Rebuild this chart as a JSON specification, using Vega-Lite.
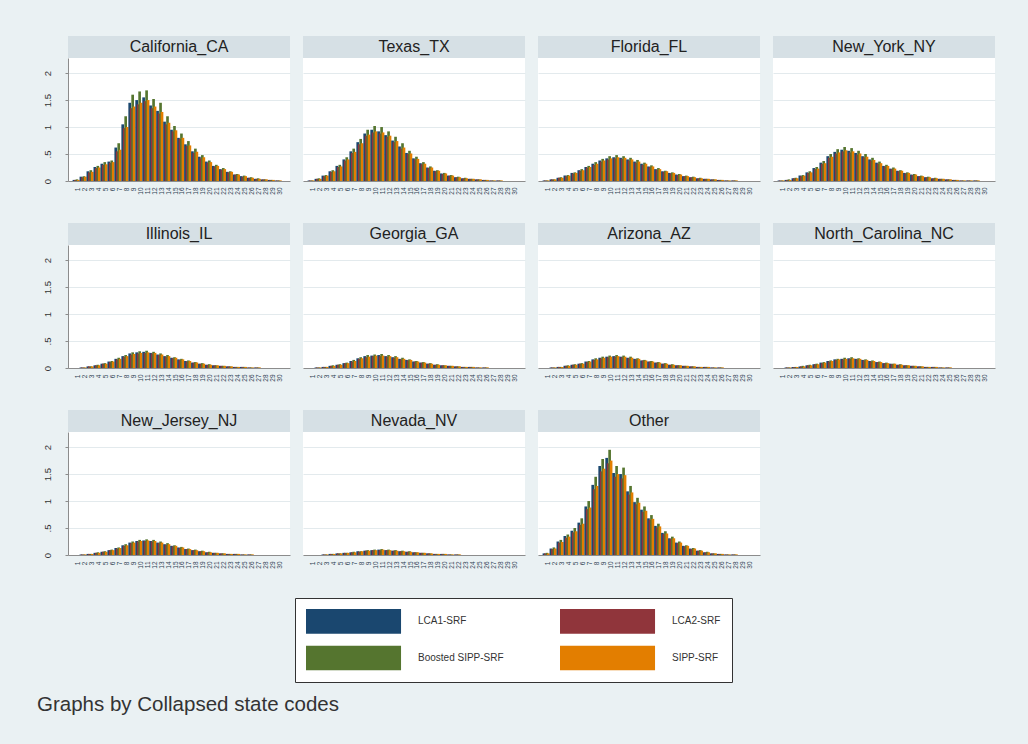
{
"$schema":"https://vega.github.io/schema/vega-lite/v6.json",
"background":"#EAF1F3",
"padding":{"left":37,"top":36,"right":33,"bottom":30},
"title":{"text":"Graphs by Collapsed state codes","orient":"bottom","anchor":"start","fontSize":20.5,"fontWeight":"normal","font":"Liberation Sans","color":"#333333","offset":12,"dx":-5},
"datasets":{"d":[
{"s":"CA","c":1,"a":0.02,"b":0.02,"g":0.03,"o":0.02},{"s":"CA","c":2,"a":0.08,"b":0.07,"g":0.09,"o":0.08},{"s":"CA","c":3,"a":0.18,"b":0.16,"g":0.2,"o":0.17},{"s":"CA","c":4,"a":0.26,"b":0.24,"g":0.28,"o":0.25},{"s":"CA","c":5,"a":0.32,"b":0.3,"g":0.35,"o":0.31},{"s":"CA","c":6,"a":0.36,"b":0.34,"g":0.38,"o":0.35},{"s":"CA","c":7,"a":0.62,"b":0.55,"g":0.7,"o":0.58},{"s":"CA","c":8,"a":1.05,"b":0.98,"g":1.2,"o":1.0},{"s":"CA","c":9,"a":1.45,"b":1.35,"g":1.6,"o":1.38},{"s":"CA","c":10,"a":1.5,"b":1.42,"g":1.66,"o":1.45},{"s":"CA","c":11,"a":1.55,"b":1.48,"g":1.68,"o":1.5},{"s":"CA","c":12,"a":1.4,"b":1.35,"g":1.52,"o":1.38},{"s":"CA","c":13,"a":1.3,"b":1.25,"g":1.45,"o":1.28},{"s":"CA","c":14,"a":1.1,"b":1.05,"g":1.2,"o":1.08},{"s":"CA","c":15,"a":0.95,"b":0.92,"g":1.02,"o":0.94},{"s":"CA","c":16,"a":0.8,"b":0.78,"g":0.88,"o":0.8},{"s":"CA","c":17,"a":0.68,"b":0.65,"g":0.74,"o":0.66},{"s":"CA","c":18,"a":0.55,"b":0.52,"g":0.6,"o":0.54},{"s":"CA","c":19,"a":0.45,"b":0.42,"g":0.48,"o":0.44},{"s":"CA","c":20,"a":0.36,"b":0.34,"g":0.38,"o":0.35},{"s":"CA","c":21,"a":0.28,"b":0.27,"g":0.3,"o":0.28},{"s":"CA","c":22,"a":0.22,"b":0.21,"g":0.24,"o":0.22},{"s":"CA","c":23,"a":0.17,"b":0.16,"g":0.18,"o":0.17},{"s":"CA","c":24,"a":0.12,"b":0.12,"g":0.13,"o":0.12},{"s":"CA","c":25,"a":0.09,"b":0.08,"g":0.1,"o":0.09},{"s":"CA","c":26,"a":0.06,"b":0.06,"g":0.07,"o":0.06},{"s":"CA","c":27,"a":0.04,"b":0.04,"g":0.05,"o":0.04},{"s":"CA","c":28,"a":0.03,"b":0.03,"g":0.03,"o":0.03},{"s":"CA","c":29,"a":0.02,"b":0.02,"g":0.02,"o":0.02},{"s":"CA","c":30,"a":0.01,"b":0.01,"g":0.01,"o":0.01},
{"s":"TX","c":1,"a":0.01,"b":0.01,"g":0.01,"o":0.01},{"s":"TX","c":2,"a":0.04,"b":0.04,"g":0.05,"o":0.04},{"s":"TX","c":3,"a":0.1,"b":0.09,"g":0.11,"o":0.1},{"s":"TX","c":4,"a":0.18,"b":0.17,"g":0.2,"o":0.18},{"s":"TX","c":5,"a":0.28,"b":0.26,"g":0.3,"o":0.27},{"s":"TX","c":6,"a":0.4,"b":0.38,"g":0.44,"o":0.4},{"s":"TX","c":7,"a":0.55,"b":0.52,"g":0.6,"o":0.54},{"s":"TX","c":8,"a":0.72,"b":0.68,"g":0.78,"o":0.7},{"s":"TX","c":9,"a":0.88,"b":0.84,"g":0.95,"o":0.86},{"s":"TX","c":10,"a":0.95,"b":0.9,"g":1.02,"o":0.92},{"s":"TX","c":11,"a":0.92,"b":0.88,"g":1.0,"o":0.9},{"s":"TX","c":12,"a":0.85,"b":0.82,"g":0.92,"o":0.84},{"s":"TX","c":13,"a":0.75,"b":0.72,"g":0.82,"o":0.74},{"s":"TX","c":14,"a":0.64,"b":0.6,"g":0.7,"o":0.62},{"s":"TX","c":15,"a":0.52,"b":0.5,"g":0.56,"o":0.51},{"s":"TX","c":16,"a":0.42,"b":0.4,"g":0.45,"o":0.41},{"s":"TX","c":17,"a":0.33,"b":0.31,"g":0.35,"o":0.32},{"s":"TX","c":18,"a":0.25,"b":0.24,"g":0.27,"o":0.25},{"s":"TX","c":19,"a":0.19,"b":0.18,"g":0.2,"o":0.19},{"s":"TX","c":20,"a":0.14,"b":0.13,"g":0.15,"o":0.14},{"s":"TX","c":21,"a":0.1,"b":0.1,"g":0.11,"o":0.1},{"s":"TX","c":22,"a":0.07,"b":0.07,"g":0.08,"o":0.07},{"s":"TX","c":23,"a":0.05,"b":0.05,"g":0.06,"o":0.05},{"s":"TX","c":24,"a":0.04,"b":0.04,"g":0.04,"o":0.04},{"s":"TX","c":25,"a":0.03,"b":0.03,"g":0.03,"o":0.03},{"s":"TX","c":26,"a":0.02,"b":0.02,"g":0.02,"o":0.02},{"s":"TX","c":27,"a":0.01,"b":0.01,"g":0.01,"o":0.01},{"s":"TX","c":28,"a":0.01,"b":0.01,"g":0.01,"o":0.01},
{"s":"FL","c":1,"a":0.01,"b":0.01,"g":0.01,"o":0.01},{"s":"FL","c":2,"a":0.03,"b":0.03,"g":0.03,"o":0.03},{"s":"FL","c":3,"a":0.06,"b":0.06,"g":0.07,"o":0.06},{"s":"FL","c":4,"a":0.1,"b":0.09,"g":0.11,"o":0.1},{"s":"FL","c":5,"a":0.15,"b":0.14,"g":0.16,"o":0.15},{"s":"FL","c":6,"a":0.2,"b":0.19,"g":0.22,"o":0.2},{"s":"FL","c":7,"a":0.26,"b":0.25,"g":0.28,"o":0.26},{"s":"FL","c":8,"a":0.32,"b":0.3,"g":0.35,"o":0.32},{"s":"FL","c":9,"a":0.38,"b":0.36,"g":0.41,"o":0.38},{"s":"FL","c":10,"a":0.42,"b":0.4,"g":0.46,"o":0.42},{"s":"FL","c":11,"a":0.44,"b":0.42,"g":0.48,"o":0.44},{"s":"FL","c":12,"a":0.43,"b":0.41,"g":0.46,"o":0.43},{"s":"FL","c":13,"a":0.4,"b":0.38,"g":0.43,"o":0.4},{"s":"FL","c":14,"a":0.36,"b":0.34,"g":0.39,"o":0.36},{"s":"FL","c":15,"a":0.32,"b":0.3,"g":0.34,"o":0.32},{"s":"FL","c":16,"a":0.27,"b":0.26,"g":0.29,"o":0.27},{"s":"FL","c":17,"a":0.22,"b":0.21,"g":0.24,"o":0.22},{"s":"FL","c":18,"a":0.18,"b":0.17,"g":0.19,"o":0.18},{"s":"FL","c":19,"a":0.15,"b":0.14,"g":0.16,"o":0.15},{"s":"FL","c":20,"a":0.12,"b":0.11,"g":0.13,"o":0.12},{"s":"FL","c":21,"a":0.09,"b":0.09,"g":0.1,"o":0.09},{"s":"FL","c":22,"a":0.07,"b":0.07,"g":0.08,"o":0.07},{"s":"FL","c":23,"a":0.05,"b":0.05,"g":0.06,"o":0.05},{"s":"FL","c":24,"a":0.04,"b":0.04,"g":0.04,"o":0.04},{"s":"FL","c":25,"a":0.03,"b":0.03,"g":0.03,"o":0.03},{"s":"FL","c":26,"a":0.02,"b":0.02,"g":0.02,"o":0.02},{"s":"FL","c":27,"a":0.01,"b":0.01,"g":0.01,"o":0.01},{"s":"FL","c":28,"a":0.01,"b":0.01,"g":0.01,"o":0.01},
{"s":"NY","c":1,"a":0.01,"b":0.01,"g":0.01,"o":0.01},{"s":"NY","c":2,"a":0.02,"b":0.02,"g":0.03,"o":0.02},{"s":"NY","c":3,"a":0.05,"b":0.05,"g":0.06,"o":0.05},{"s":"NY","c":4,"a":0.1,"b":0.09,"g":0.11,"o":0.1},{"s":"NY","c":5,"a":0.16,"b":0.15,"g":0.18,"o":0.16},{"s":"NY","c":6,"a":0.24,"b":0.22,"g":0.26,"o":0.23},{"s":"NY","c":7,"a":0.34,"b":0.32,"g":0.37,"o":0.33},{"s":"NY","c":8,"a":0.46,"b":0.43,"g":0.5,"o":0.45},{"s":"NY","c":9,"a":0.54,"b":0.51,"g":0.59,"o":0.53},{"s":"NY","c":10,"a":0.58,"b":0.55,"g":0.63,"o":0.57},{"s":"NY","c":11,"a":0.56,"b":0.53,"g":0.61,"o":0.55},{"s":"NY","c":12,"a":0.52,"b":0.49,"g":0.56,"o":0.51},{"s":"NY","c":13,"a":0.46,"b":0.44,"g":0.5,"o":0.45},{"s":"NY","c":14,"a":0.4,"b":0.38,"g":0.43,"o":0.39},{"s":"NY","c":15,"a":0.34,"b":0.32,"g":0.36,"o":0.33},{"s":"NY","c":16,"a":0.28,"b":0.27,"g":0.3,"o":0.28},{"s":"NY","c":17,"a":0.23,"b":0.22,"g":0.25,"o":0.23},{"s":"NY","c":18,"a":0.19,"b":0.18,"g":0.2,"o":0.19},{"s":"NY","c":19,"a":0.15,"b":0.14,"g":0.16,"o":0.15},{"s":"NY","c":20,"a":0.12,"b":0.11,"g":0.13,"o":0.12},{"s":"NY","c":21,"a":0.09,"b":0.09,"g":0.1,"o":0.09},{"s":"NY","c":22,"a":0.07,"b":0.07,"g":0.08,"o":0.07},{"s":"NY","c":23,"a":0.05,"b":0.05,"g":0.06,"o":0.05},{"s":"NY","c":24,"a":0.04,"b":0.04,"g":0.04,"o":0.04},{"s":"NY","c":25,"a":0.03,"b":0.03,"g":0.03,"o":0.03},{"s":"NY","c":26,"a":0.02,"b":0.02,"g":0.02,"o":0.02},{"s":"NY","c":27,"a":0.01,"b":0.01,"g":0.01,"o":0.01},{"s":"NY","c":28,"a":0.01,"b":0.01,"g":0.01,"o":0.01},{"s":"NY","c":29,"a":0.01,"b":0.01,"g":0.01,"o":0.01},
{"s":"IL","c":2,"a":0.01,"b":0.01,"g":0.01,"o":0.01},{"s":"IL","c":3,"a":0.03,"b":0.03,"g":0.03,"o":0.03},{"s":"IL","c":4,"a":0.05,"b":0.05,"g":0.06,"o":0.05},{"s":"IL","c":5,"a":0.08,"b":0.08,"g":0.09,"o":0.08},{"s":"IL","c":6,"a":0.12,"b":0.11,"g":0.13,"o":0.12},{"s":"IL","c":7,"a":0.17,"b":0.16,"g":0.19,"o":0.17},{"s":"IL","c":8,"a":0.22,"b":0.21,"g":0.24,"o":0.22},{"s":"IL","c":9,"a":0.27,"b":0.25,"g":0.29,"o":0.26},{"s":"IL","c":10,"a":0.29,"b":0.27,"g":0.31,"o":0.28},{"s":"IL","c":11,"a":0.3,"b":0.28,"g":0.32,"o":0.29},{"s":"IL","c":12,"a":0.28,"b":0.27,"g":0.3,"o":0.28},{"s":"IL","c":13,"a":0.25,"b":0.24,"g":0.27,"o":0.25},{"s":"IL","c":14,"a":0.22,"b":0.21,"g":0.24,"o":0.22},{"s":"IL","c":15,"a":0.19,"b":0.18,"g":0.2,"o":0.19},{"s":"IL","c":16,"a":0.16,"b":0.15,"g":0.17,"o":0.16},{"s":"IL","c":17,"a":0.13,"b":0.12,"g":0.14,"o":0.13},{"s":"IL","c":18,"a":0.1,"b":0.1,"g":0.11,"o":0.1},{"s":"IL","c":19,"a":0.08,"b":0.08,"g":0.09,"o":0.08},{"s":"IL","c":20,"a":0.06,"b":0.06,"g":0.07,"o":0.06},{"s":"IL","c":21,"a":0.05,"b":0.05,"g":0.05,"o":0.05},{"s":"IL","c":22,"a":0.04,"b":0.04,"g":0.04,"o":0.04},{"s":"IL","c":23,"a":0.03,"b":0.03,"g":0.03,"o":0.03},{"s":"IL","c":24,"a":0.02,"b":0.02,"g":0.02,"o":0.02},{"s":"IL","c":25,"a":0.02,"b":0.02,"g":0.02,"o":0.02},{"s":"IL","c":26,"a":0.01,"b":0.01,"g":0.01,"o":0.01},{"s":"IL","c":27,"a":0.01,"b":0.01,"g":0.01,"o":0.01},
{"s":"GA","c":2,"a":0.01,"b":0.01,"g":0.01,"o":0.01},{"s":"GA","c":3,"a":0.02,"b":0.02,"g":0.02,"o":0.02},{"s":"GA","c":4,"a":0.04,"b":0.04,"g":0.05,"o":0.04},{"s":"GA","c":5,"a":0.06,"b":0.06,"g":0.07,"o":0.06},{"s":"GA","c":6,"a":0.09,"b":0.09,"g":0.1,"o":0.09},{"s":"GA","c":7,"a":0.13,"b":0.12,"g":0.15,"o":0.13},{"s":"GA","c":8,"a":0.18,"b":0.17,"g":0.2,"o":0.18},{"s":"GA","c":9,"a":0.22,"b":0.2,"g":0.24,"o":0.21},{"s":"GA","c":10,"a":0.23,"b":0.22,"g":0.25,"o":0.23},{"s":"GA","c":11,"a":0.24,"b":0.22,"g":0.26,"o":0.23},{"s":"GA","c":12,"a":0.22,"b":0.21,"g":0.24,"o":0.22},{"s":"GA","c":13,"a":0.2,"b":0.19,"g":0.22,"o":0.2},{"s":"GA","c":14,"a":0.17,"b":0.16,"g":0.19,"o":0.17},{"s":"GA","c":15,"a":0.15,"b":0.14,"g":0.16,"o":0.15},{"s":"GA","c":16,"a":0.12,"b":0.12,"g":0.13,"o":0.12},{"s":"GA","c":17,"a":0.1,"b":0.1,"g":0.11,"o":0.1},{"s":"GA","c":18,"a":0.08,"b":0.08,"g":0.09,"o":0.08},{"s":"GA","c":19,"a":0.06,"b":0.06,"g":0.07,"o":0.06},{"s":"GA","c":20,"a":0.05,"b":0.05,"g":0.05,"o":0.05},{"s":"GA","c":21,"a":0.04,"b":0.04,"g":0.04,"o":0.04},{"s":"GA","c":22,"a":0.03,"b":0.03,"g":0.03,"o":0.03},{"s":"GA","c":23,"a":0.02,"b":0.02,"g":0.02,"o":0.02},{"s":"GA","c":24,"a":0.02,"b":0.02,"g":0.02,"o":0.02},{"s":"GA","c":25,"a":0.01,"b":0.01,"g":0.01,"o":0.01},{"s":"GA","c":26,"a":0.01,"b":0.01,"g":0.01,"o":0.01},
{"s":"AZ","c":2,"a":0.01,"b":0.01,"g":0.01,"o":0.01},{"s":"AZ","c":3,"a":0.02,"b":0.02,"g":0.02,"o":0.02},{"s":"AZ","c":4,"a":0.04,"b":0.04,"g":0.05,"o":0.04},{"s":"AZ","c":5,"a":0.06,"b":0.06,"g":0.07,"o":0.06},{"s":"AZ","c":6,"a":0.08,"b":0.08,"g":0.09,"o":0.08},{"s":"AZ","c":7,"a":0.12,"b":0.11,"g":0.13,"o":0.12},{"s":"AZ","c":8,"a":0.16,"b":0.15,"g":0.18,"o":0.16},{"s":"AZ","c":9,"a":0.19,"b":0.18,"g":0.21,"o":0.19},{"s":"AZ","c":10,"a":0.21,"b":0.2,"g":0.23,"o":0.21},{"s":"AZ","c":11,"a":0.22,"b":0.21,"g":0.24,"o":0.22},{"s":"AZ","c":12,"a":0.21,"b":0.2,"g":0.23,"o":0.21},{"s":"AZ","c":13,"a":0.19,"b":0.18,"g":0.21,"o":0.19},{"s":"AZ","c":14,"a":0.17,"b":0.16,"g":0.18,"o":0.17},{"s":"AZ","c":15,"a":0.14,"b":0.14,"g":0.15,"o":0.14},{"s":"AZ","c":16,"a":0.12,"b":0.12,"g":0.13,"o":0.12},{"s":"AZ","c":17,"a":0.1,"b":0.1,"g":0.11,"o":0.1},{"s":"AZ","c":18,"a":0.08,"b":0.08,"g":0.09,"o":0.08},{"s":"AZ","c":19,"a":0.06,"b":0.06,"g":0.07,"o":0.06},{"s":"AZ","c":20,"a":0.05,"b":0.05,"g":0.05,"o":0.05},{"s":"AZ","c":21,"a":0.04,"b":0.04,"g":0.04,"o":0.04},{"s":"AZ","c":22,"a":0.03,"b":0.03,"g":0.03,"o":0.03},{"s":"AZ","c":23,"a":0.02,"b":0.02,"g":0.02,"o":0.02},{"s":"AZ","c":24,"a":0.02,"b":0.02,"g":0.02,"o":0.02},{"s":"AZ","c":25,"a":0.01,"b":0.01,"g":0.01,"o":0.01},{"s":"AZ","c":26,"a":0.01,"b":0.01,"g":0.01,"o":0.01},
{"s":"NC","c":2,"a":0.01,"b":0.01,"g":0.01,"o":0.01},{"s":"NC","c":3,"a":0.02,"b":0.02,"g":0.02,"o":0.02},{"s":"NC","c":4,"a":0.03,"b":0.03,"g":0.04,"o":0.03},{"s":"NC","c":5,"a":0.05,"b":0.05,"g":0.06,"o":0.05},{"s":"NC","c":6,"a":0.07,"b":0.07,"g":0.08,"o":0.07},{"s":"NC","c":7,"a":0.1,"b":0.09,"g":0.11,"o":0.1},{"s":"NC","c":8,"a":0.13,"b":0.12,"g":0.14,"o":0.13},{"s":"NC","c":9,"a":0.16,"b":0.15,"g":0.17,"o":0.16},{"s":"NC","c":10,"a":0.17,"b":0.16,"g":0.19,"o":0.17},{"s":"NC","c":11,"a":0.18,"b":0.17,"g":0.2,"o":0.18},{"s":"NC","c":12,"a":0.17,"b":0.16,"g":0.18,"o":0.17},{"s":"NC","c":13,"a":0.15,"b":0.14,"g":0.16,"o":0.15},{"s":"NC","c":14,"a":0.13,"b":0.12,"g":0.14,"o":0.13},{"s":"NC","c":15,"a":0.11,"b":0.11,"g":0.12,"o":0.11},{"s":"NC","c":16,"a":0.09,"b":0.09,"g":0.1,"o":0.09},{"s":"NC","c":17,"a":0.08,"b":0.07,"g":0.08,"o":0.08},{"s":"NC","c":18,"a":0.06,"b":0.06,"g":0.07,"o":0.06},{"s":"NC","c":19,"a":0.05,"b":0.05,"g":0.05,"o":0.05},{"s":"NC","c":20,"a":0.04,"b":0.04,"g":0.04,"o":0.04},{"s":"NC","c":21,"a":0.03,"b":0.03,"g":0.03,"o":0.03},{"s":"NC","c":22,"a":0.02,"b":0.02,"g":0.02,"o":0.02},{"s":"NC","c":23,"a":0.02,"b":0.02,"g":0.02,"o":0.02},{"s":"NC","c":24,"a":0.01,"b":0.01,"g":0.01,"o":0.01},{"s":"NC","c":25,"a":0.01,"b":0.01,"g":0.01,"o":0.01},
{"s":"NJ","c":2,"a":0.01,"b":0.01,"g":0.01,"o":0.01},{"s":"NJ","c":3,"a":0.02,"b":0.02,"g":0.02,"o":0.02},{"s":"NJ","c":4,"a":0.04,"b":0.04,"g":0.05,"o":0.04},{"s":"NJ","c":5,"a":0.06,"b":0.06,"g":0.07,"o":0.06},{"s":"NJ","c":6,"a":0.09,"b":0.09,"g":0.1,"o":0.09},{"s":"NJ","c":7,"a":0.13,"b":0.12,"g":0.14,"o":0.13},{"s":"NJ","c":8,"a":0.18,"b":0.17,"g":0.2,"o":0.18},{"s":"NJ","c":9,"a":0.23,"b":0.22,"g":0.25,"o":0.23},{"s":"NJ","c":10,"a":0.26,"b":0.25,"g":0.28,"o":0.26},{"s":"NJ","c":11,"a":0.27,"b":0.26,"g":0.29,"o":0.27},{"s":"NJ","c":12,"a":0.26,"b":0.25,"g":0.28,"o":0.26},{"s":"NJ","c":13,"a":0.23,"b":0.22,"g":0.25,"o":0.23},{"s":"NJ","c":14,"a":0.2,"b":0.19,"g":0.22,"o":0.2},{"s":"NJ","c":15,"a":0.17,"b":0.16,"g":0.18,"o":0.17},{"s":"NJ","c":16,"a":0.14,"b":0.13,"g":0.15,"o":0.14},{"s":"NJ","c":17,"a":0.11,"b":0.11,"g":0.12,"o":0.11},{"s":"NJ","c":18,"a":0.09,"b":0.09,"g":0.1,"o":0.09},{"s":"NJ","c":19,"a":0.07,"b":0.07,"g":0.08,"o":0.07},{"s":"NJ","c":20,"a":0.05,"b":0.05,"g":0.06,"o":0.05},{"s":"NJ","c":21,"a":0.04,"b":0.04,"g":0.04,"o":0.04},{"s":"NJ","c":22,"a":0.03,"b":0.03,"g":0.03,"o":0.03},{"s":"NJ","c":23,"a":0.02,"b":0.02,"g":0.02,"o":0.02},{"s":"NJ","c":24,"a":0.02,"b":0.02,"g":0.02,"o":0.02},{"s":"NJ","c":25,"a":0.01,"b":0.01,"g":0.01,"o":0.01},{"s":"NJ","c":26,"a":0.01,"b":0.01,"g":0.01,"o":0.01},
{"s":"NV","c":3,"a":0.01,"b":0.01,"g":0.01,"o":0.01},{"s":"NV","c":4,"a":0.02,"b":0.02,"g":0.02,"o":0.02},{"s":"NV","c":5,"a":0.03,"b":0.03,"g":0.03,"o":0.03},{"s":"NV","c":6,"a":0.04,"b":0.04,"g":0.04,"o":0.04},{"s":"NV","c":7,"a":0.05,"b":0.05,"g":0.06,"o":0.05},{"s":"NV","c":8,"a":0.07,"b":0.06,"g":0.07,"o":0.07},{"s":"NV","c":9,"a":0.08,"b":0.08,"g":0.09,"o":0.08},{"s":"NV","c":10,"a":0.09,"b":0.09,"g":0.1,"o":0.09},{"s":"NV","c":11,"a":0.1,"b":0.09,"g":0.11,"o":0.1},{"s":"NV","c":12,"a":0.09,"b":0.09,"g":0.1,"o":0.09},{"s":"NV","c":13,"a":0.08,"b":0.08,"g":0.09,"o":0.08},{"s":"NV","c":14,"a":0.07,"b":0.07,"g":0.08,"o":0.07},{"s":"NV","c":15,"a":0.06,"b":0.06,"g":0.07,"o":0.06},{"s":"NV","c":16,"a":0.05,"b":0.05,"g":0.05,"o":0.05},{"s":"NV","c":17,"a":0.04,"b":0.04,"g":0.04,"o":0.04},{"s":"NV","c":18,"a":0.03,"b":0.03,"g":0.03,"o":0.03},{"s":"NV","c":19,"a":0.02,"b":0.02,"g":0.02,"o":0.02},{"s":"NV","c":20,"a":0.02,"b":0.02,"g":0.02,"o":0.02},{"s":"NV","c":21,"a":0.01,"b":0.01,"g":0.01,"o":0.01},{"s":"NV","c":22,"a":0.01,"b":0.01,"g":0.01,"o":0.01},
{"s":"OT","c":1,"a":0.03,"b":0.03,"g":0.04,"o":0.03},{"s":"OT","c":2,"a":0.12,"b":0.11,"g":0.14,"o":0.12},{"s":"OT","c":3,"a":0.25,"b":0.23,"g":0.28,"o":0.24},{"s":"OT","c":4,"a":0.35,"b":0.32,"g":0.38,"o":0.34},{"s":"OT","c":5,"a":0.45,"b":0.42,"g":0.5,"o":0.44},{"s":"OT","c":6,"a":0.6,"b":0.56,"g":0.68,"o":0.58},{"s":"OT","c":7,"a":0.9,"b":0.85,"g":1.0,"o":0.88},{"s":"OT","c":8,"a":1.3,"b":1.22,"g":1.45,"o":1.28},{"s":"OT","c":9,"a":1.65,"b":1.55,"g":1.78,"o":1.6},{"s":"OT","c":10,"a":1.8,"b":1.7,"g":1.95,"o":1.75},{"s":"OT","c":11,"a":1.52,"b":1.45,"g":1.65,"o":1.5},{"s":"OT","c":12,"a":1.5,"b":1.42,"g":1.62,"o":1.48},{"s":"OT","c":13,"a":1.18,"b":1.12,"g":1.28,"o":1.16},{"s":"OT","c":14,"a":0.98,"b":0.94,"g":1.06,"o":0.97},{"s":"OT","c":15,"a":0.84,"b":0.8,"g":0.9,"o":0.82},{"s":"OT","c":16,"a":0.68,"b":0.65,"g":0.74,"o":0.67},{"s":"OT","c":17,"a":0.54,"b":0.51,"g":0.58,"o":0.53},{"s":"OT","c":18,"a":0.41,"b":0.39,"g":0.44,"o":0.4},{"s":"OT","c":19,"a":0.31,"b":0.3,"g":0.34,"o":0.31},{"s":"OT","c":20,"a":0.23,"b":0.22,"g":0.25,"o":0.23},{"s":"OT","c":21,"a":0.17,"b":0.16,"g":0.18,"o":0.17},{"s":"OT","c":22,"a":0.12,"b":0.11,"g":0.13,"o":0.12},{"s":"OT","c":23,"a":0.08,"b":0.08,"g":0.09,"o":0.08},{"s":"OT","c":24,"a":0.05,"b":0.05,"g":0.06,"o":0.05},{"s":"OT","c":25,"a":0.03,"b":0.03,"g":0.03,"o":0.03},{"s":"OT","c":26,"a":0.02,"b":0.02,"g":0.02,"o":0.02},{"s":"OT","c":27,"a":0.01,"b":0.01,"g":0.01,"o":0.01},{"s":"OT","c":28,"a":0.01,"b":0.01,"g":0.01,"o":0.01}
]},
"spacing":28,
"vconcat":[
{"spacing":13,"hconcat":[
 {"bounds":"flush","spacing":0,"vconcat":[
  {"width":222,"height":22,"view":{"fill":"#D6E0E5"},"data":{"values":[{"t":"California_CA"}]},"mark":{"type":"text","fontSize":16,"font":"Liberation Sans","color":"#222222"},"encoding":{"text":{"field":"t"}}},
  {"width":222,"height":123,"data":{"name":"d"},"transform":[{"filter":"datum.s=='CA'"},{"fold":["a","b","g","o"],"as":["k","v"]}],"mark":{"type":"bar","width":{"band":1.8}},
   "encoding":{"x":{"field":"c","type":"ordinal","scale":{"domain":[1,2,3,4,5,6,7,8,9,10,11,12,13,14,15,16,17,18,19,20,21,22,23,24,25,26,27,28,29,30],"paddingInner":0.15,"paddingOuter":2}},
   "xOffset":{"field":"k","scale":{"domain":["a","b","g","o"]}},
   "y":{"field":"v","type":"quantitative","scale":{"domain":[0,2.28],"nice":false,"zero":true}},
   "color":{"field":"k","scale":{"domain":["a","b","g","o"],"range":["#1a476f","#90353b","#55752f","#e37e00"]},"legend":{"orient":"none","legendX":227,"legendY":562,"columns":2,"direction":"horizontal","title":null,"labelExpr":"datum.label=='a'?'LCA1-SRF':datum.label=='b'?'LCA2-SRF':datum.label=='g'?'Boosted SIPP-SRF':'SIPP-SRF'"}}}}
 ]},
 {"bounds":"flush","spacing":0,"vconcat":[
  {"width":222,"height":22,"view":{"fill":"#D6E0E5"},"data":{"values":[{"t":"Texas_TX"}]},"mark":{"type":"text","fontSize":16,"font":"Liberation Sans","color":"#222222"},"encoding":{"text":{"field":"t"}}},
  {"width":222,"height":123,"data":{"name":"d"},"transform":[{"filter":"datum.s=='TX'"},{"fold":["a","b","g","o"],"as":["k","v"]}],"mark":{"type":"bar","width":{"band":1.8}},
   "encoding":{"x":{"field":"c","type":"ordinal","scale":{"domain":[1,2,3,4,5,6,7,8,9,10,11,12,13,14,15,16,17,18,19,20,21,22,23,24,25,26,27,28,29,30],"paddingInner":0.15,"paddingOuter":2}},
   "xOffset":{"field":"k","scale":{"domain":["a","b","g","o"]}},
   "y":{"field":"v","type":"quantitative","scale":{"domain":[0,2.28],"nice":false,"zero":true},"axis":{"labels":false,"ticks":false,"domain":false}},
   "color":{"field":"k","scale":{"domain":["a","b","g","o"],"range":["#1a476f","#90353b","#55752f","#e37e00"]},"legend":{"orient":"none","legendX":227,"legendY":562,"columns":2,"direction":"horizontal","title":null,"labelExpr":"datum.label=='a'?'LCA1-SRF':datum.label=='b'?'LCA2-SRF':datum.label=='g'?'Boosted SIPP-SRF':'SIPP-SRF'"}}}}
 ]},
 {"bounds":"flush","spacing":0,"vconcat":[
  {"width":222,"height":22,"view":{"fill":"#D6E0E5"},"data":{"values":[{"t":"Florida_FL"}]},"mark":{"type":"text","fontSize":16,"font":"Liberation Sans","color":"#222222"},"encoding":{"text":{"field":"t"}}},
  {"width":222,"height":123,"data":{"name":"d"},"transform":[{"filter":"datum.s=='FL'"},{"fold":["a","b","g","o"],"as":["k","v"]}],"mark":{"type":"bar","width":{"band":1.8}},
   "encoding":{"x":{"field":"c","type":"ordinal","scale":{"domain":[1,2,3,4,5,6,7,8,9,10,11,12,13,14,15,16,17,18,19,20,21,22,23,24,25,26,27,28,29,30],"paddingInner":0.15,"paddingOuter":2}},
   "xOffset":{"field":"k","scale":{"domain":["a","b","g","o"]}},
   "y":{"field":"v","type":"quantitative","scale":{"domain":[0,2.28],"nice":false,"zero":true},"axis":{"labels":false,"ticks":false,"domain":false}},
   "color":{"field":"k","scale":{"domain":["a","b","g","o"],"range":["#1a476f","#90353b","#55752f","#e37e00"]},"legend":{"orient":"none","legendX":227,"legendY":562,"columns":2,"direction":"horizontal","title":null,"labelExpr":"datum.label=='a'?'LCA1-SRF':datum.label=='b'?'LCA2-SRF':datum.label=='g'?'Boosted SIPP-SRF':'SIPP-SRF'"}}}}
 ]},
 {"bounds":"flush","spacing":0,"vconcat":[
  {"width":222,"height":22,"view":{"fill":"#D6E0E5"},"data":{"values":[{"t":"New_York_NY"}]},"mark":{"type":"text","fontSize":16,"font":"Liberation Sans","color":"#222222"},"encoding":{"text":{"field":"t"}}},
  {"width":222,"height":123,"data":{"name":"d"},"transform":[{"filter":"datum.s=='NY'"},{"fold":["a","b","g","o"],"as":["k","v"]}],"mark":{"type":"bar","width":{"band":1.8}},
   "encoding":{"x":{"field":"c","type":"ordinal","scale":{"domain":[1,2,3,4,5,6,7,8,9,10,11,12,13,14,15,16,17,18,19,20,21,22,23,24,25,26,27,28,29,30],"paddingInner":0.15,"paddingOuter":2}},
   "xOffset":{"field":"k","scale":{"domain":["a","b","g","o"]}},
   "y":{"field":"v","type":"quantitative","scale":{"domain":[0,2.28],"nice":false,"zero":true},"axis":{"labels":false,"ticks":false,"domain":false}},
   "color":{"field":"k","scale":{"domain":["a","b","g","o"],"range":["#1a476f","#90353b","#55752f","#e37e00"]},"legend":{"orient":"none","legendX":227,"legendY":562,"columns":2,"direction":"horizontal","title":null,"labelExpr":"datum.label=='a'?'LCA1-SRF':datum.label=='b'?'LCA2-SRF':datum.label=='g'?'Boosted SIPP-SRF':'SIPP-SRF'"}}}}
 ]}
]},
{"spacing":13,"hconcat":[
 {"bounds":"flush","spacing":0,"vconcat":[
  {"width":222,"height":22,"view":{"fill":"#D6E0E5"},"data":{"values":[{"t":"Illinois_IL"}]},"mark":{"type":"text","fontSize":16,"font":"Liberation Sans","color":"#222222"},"encoding":{"text":{"field":"t"}}},
  {"width":222,"height":123,"data":{"name":"d"},"transform":[{"filter":"datum.s=='IL'"},{"fold":["a","b","g","o"],"as":["k","v"]}],"mark":{"type":"bar","width":{"band":1.8}},
   "encoding":{"x":{"field":"c","type":"ordinal","scale":{"domain":[1,2,3,4,5,6,7,8,9,10,11,12,13,14,15,16,17,18,19,20,21,22,23,24,25,26,27,28,29,30],"paddingInner":0.15,"paddingOuter":2}},
   "xOffset":{"field":"k","scale":{"domain":["a","b","g","o"]}},
   "y":{"field":"v","type":"quantitative","scale":{"domain":[0,2.28],"nice":false,"zero":true}},
   "color":{"field":"k","scale":{"domain":["a","b","g","o"],"range":["#1a476f","#90353b","#55752f","#e37e00"]},"legend":{"orient":"none","legendX":227,"legendY":562,"columns":2,"direction":"horizontal","title":null,"labelExpr":"datum.label=='a'?'LCA1-SRF':datum.label=='b'?'LCA2-SRF':datum.label=='g'?'Boosted SIPP-SRF':'SIPP-SRF'"}}}}
 ]},
 {"bounds":"flush","spacing":0,"vconcat":[
  {"width":222,"height":22,"view":{"fill":"#D6E0E5"},"data":{"values":[{"t":"Georgia_GA"}]},"mark":{"type":"text","fontSize":16,"font":"Liberation Sans","color":"#222222"},"encoding":{"text":{"field":"t"}}},
  {"width":222,"height":123,"data":{"name":"d"},"transform":[{"filter":"datum.s=='GA'"},{"fold":["a","b","g","o"],"as":["k","v"]}],"mark":{"type":"bar","width":{"band":1.8}},
   "encoding":{"x":{"field":"c","type":"ordinal","scale":{"domain":[1,2,3,4,5,6,7,8,9,10,11,12,13,14,15,16,17,18,19,20,21,22,23,24,25,26,27,28,29,30],"paddingInner":0.15,"paddingOuter":2}},
   "xOffset":{"field":"k","scale":{"domain":["a","b","g","o"]}},
   "y":{"field":"v","type":"quantitative","scale":{"domain":[0,2.28],"nice":false,"zero":true},"axis":{"labels":false,"ticks":false,"domain":false}},
   "color":{"field":"k","scale":{"domain":["a","b","g","o"],"range":["#1a476f","#90353b","#55752f","#e37e00"]},"legend":{"orient":"none","legendX":227,"legendY":562,"columns":2,"direction":"horizontal","title":null,"labelExpr":"datum.label=='a'?'LCA1-SRF':datum.label=='b'?'LCA2-SRF':datum.label=='g'?'Boosted SIPP-SRF':'SIPP-SRF'"}}}}
 ]},
 {"bounds":"flush","spacing":0,"vconcat":[
  {"width":222,"height":22,"view":{"fill":"#D6E0E5"},"data":{"values":[{"t":"Arizona_AZ"}]},"mark":{"type":"text","fontSize":16,"font":"Liberation Sans","color":"#222222"},"encoding":{"text":{"field":"t"}}},
  {"width":222,"height":123,"data":{"name":"d"},"transform":[{"filter":"datum.s=='AZ'"},{"fold":["a","b","g","o"],"as":["k","v"]}],"mark":{"type":"bar","width":{"band":1.8}},
   "encoding":{"x":{"field":"c","type":"ordinal","scale":{"domain":[1,2,3,4,5,6,7,8,9,10,11,12,13,14,15,16,17,18,19,20,21,22,23,24,25,26,27,28,29,30],"paddingInner":0.15,"paddingOuter":2}},
   "xOffset":{"field":"k","scale":{"domain":["a","b","g","o"]}},
   "y":{"field":"v","type":"quantitative","scale":{"domain":[0,2.28],"nice":false,"zero":true},"axis":{"labels":false,"ticks":false,"domain":false}},
   "color":{"field":"k","scale":{"domain":["a","b","g","o"],"range":["#1a476f","#90353b","#55752f","#e37e00"]},"legend":{"orient":"none","legendX":227,"legendY":562,"columns":2,"direction":"horizontal","title":null,"labelExpr":"datum.label=='a'?'LCA1-SRF':datum.label=='b'?'LCA2-SRF':datum.label=='g'?'Boosted SIPP-SRF':'SIPP-SRF'"}}}}
 ]},
 {"bounds":"flush","spacing":0,"vconcat":[
  {"width":222,"height":22,"view":{"fill":"#D6E0E5"},"data":{"values":[{"t":"North_Carolina_NC"}]},"mark":{"type":"text","fontSize":16,"font":"Liberation Sans","color":"#222222"},"encoding":{"text":{"field":"t"}}},
  {"width":222,"height":123,"data":{"name":"d"},"transform":[{"filter":"datum.s=='NC'"},{"fold":["a","b","g","o"],"as":["k","v"]}],"mark":{"type":"bar","width":{"band":1.8}},
   "encoding":{"x":{"field":"c","type":"ordinal","scale":{"domain":[1,2,3,4,5,6,7,8,9,10,11,12,13,14,15,16,17,18,19,20,21,22,23,24,25,26,27,28,29,30],"paddingInner":0.15,"paddingOuter":2}},
   "xOffset":{"field":"k","scale":{"domain":["a","b","g","o"]}},
   "y":{"field":"v","type":"quantitative","scale":{"domain":[0,2.28],"nice":false,"zero":true},"axis":{"labels":false,"ticks":false,"domain":false}},
   "color":{"field":"k","scale":{"domain":["a","b","g","o"],"range":["#1a476f","#90353b","#55752f","#e37e00"]},"legend":{"orient":"none","legendX":227,"legendY":562,"columns":2,"direction":"horizontal","title":null,"labelExpr":"datum.label=='a'?'LCA1-SRF':datum.label=='b'?'LCA2-SRF':datum.label=='g'?'Boosted SIPP-SRF':'SIPP-SRF'"}}}}
 ]}
]},
{"spacing":13,"hconcat":[
 {"bounds":"flush","spacing":0,"vconcat":[
  {"width":222,"height":22,"view":{"fill":"#D6E0E5"},"data":{"values":[{"t":"New_Jersey_NJ"}]},"mark":{"type":"text","fontSize":16,"font":"Liberation Sans","color":"#222222"},"encoding":{"text":{"field":"t"}}},
  {"width":222,"height":123,"data":{"name":"d"},"transform":[{"filter":"datum.s=='NJ'"},{"fold":["a","b","g","o"],"as":["k","v"]}],"mark":{"type":"bar","width":{"band":1.8}},
   "encoding":{"x":{"field":"c","type":"ordinal","scale":{"domain":[1,2,3,4,5,6,7,8,9,10,11,12,13,14,15,16,17,18,19,20,21,22,23,24,25,26,27,28,29,30],"paddingInner":0.15,"paddingOuter":2}},
   "xOffset":{"field":"k","scale":{"domain":["a","b","g","o"]}},
   "y":{"field":"v","type":"quantitative","scale":{"domain":[0,2.28],"nice":false,"zero":true}},
   "color":{"field":"k","scale":{"domain":["a","b","g","o"],"range":["#1a476f","#90353b","#55752f","#e37e00"]},"legend":{"orient":"none","legendX":227,"legendY":562,"columns":2,"direction":"horizontal","title":null,"labelExpr":"datum.label=='a'?'LCA1-SRF':datum.label=='b'?'LCA2-SRF':datum.label=='g'?'Boosted SIPP-SRF':'SIPP-SRF'"}}}}
 ]},
 {"bounds":"flush","spacing":0,"vconcat":[
  {"width":222,"height":22,"view":{"fill":"#D6E0E5"},"data":{"values":[{"t":"Nevada_NV"}]},"mark":{"type":"text","fontSize":16,"font":"Liberation Sans","color":"#222222"},"encoding":{"text":{"field":"t"}}},
  {"width":222,"height":123,"data":{"name":"d"},"transform":[{"filter":"datum.s=='NV'"},{"fold":["a","b","g","o"],"as":["k","v"]}],"mark":{"type":"bar","width":{"band":1.8}},
   "encoding":{"x":{"field":"c","type":"ordinal","scale":{"domain":[1,2,3,4,5,6,7,8,9,10,11,12,13,14,15,16,17,18,19,20,21,22,23,24,25,26,27,28,29,30],"paddingInner":0.15,"paddingOuter":2}},
   "xOffset":{"field":"k","scale":{"domain":["a","b","g","o"]}},
   "y":{"field":"v","type":"quantitative","scale":{"domain":[0,2.28],"nice":false,"zero":true},"axis":{"labels":false,"ticks":false,"domain":false}},
   "color":{"field":"k","scale":{"domain":["a","b","g","o"],"range":["#1a476f","#90353b","#55752f","#e37e00"]},"legend":{"orient":"none","legendX":227,"legendY":562,"columns":2,"direction":"horizontal","title":null,"labelExpr":"datum.label=='a'?'LCA1-SRF':datum.label=='b'?'LCA2-SRF':datum.label=='g'?'Boosted SIPP-SRF':'SIPP-SRF'"}}}}
 ]},
 {"bounds":"flush","spacing":0,"vconcat":[
  {"width":222,"height":22,"view":{"fill":"#D6E0E5"},"data":{"values":[{"t":"Other"}]},"mark":{"type":"text","fontSize":16,"font":"Liberation Sans","color":"#222222"},"encoding":{"text":{"field":"t"}}},
  {"width":222,"height":123,"data":{"name":"d"},"transform":[{"filter":"datum.s=='OT'"},{"fold":["a","b","g","o"],"as":["k","v"]}],"mark":{"type":"bar","width":{"band":1.8}},
   "encoding":{"x":{"field":"c","type":"ordinal","scale":{"domain":[1,2,3,4,5,6,7,8,9,10,11,12,13,14,15,16,17,18,19,20,21,22,23,24,25,26,27,28,29,30],"paddingInner":0.15,"paddingOuter":2}},
   "xOffset":{"field":"k","scale":{"domain":["a","b","g","o"]}},
   "y":{"field":"v","type":"quantitative","scale":{"domain":[0,2.28],"nice":false,"zero":true},"axis":{"labels":false,"ticks":false,"domain":false}},
   "color":{"field":"k","scale":{"domain":["a","b","g","o"],"range":["#1a476f","#90353b","#55752f","#e37e00"]},"legend":{"orient":"none","legendX":227,"legendY":562,"columns":2,"direction":"horizontal","title":null,"labelExpr":"datum.label=='a'?'LCA1-SRF':datum.label=='b'?'LCA2-SRF':datum.label=='g'?'Boosted SIPP-SRF':'SIPP-SRF'"}}}}
 ]}
]}
],
"config":{
 "view":{"stroke":null,"fill":"#ffffff"},
 "font":"Liberation Sans",
 "axisX":{"title":null,"ticks":false,"grid":false,"labelAngle":-90,"labelFontSize":6.5,"labelColor":"#2F4254","labelPadding":6,"domainColor":"#8C8C8C","labelOverlap":false},
 "axisY":{"title":null,"values":[0,0.5,1,1.5,2],"format":".1~f","grid":true,"gridColor":"#E3EAED","domainColor":"#8C8C8C","tickColor":"#8C8C8C","tickSize":3,"labelAngle":-90,"labelFontSize":9.5,"labelColor":"#333333","labelPadding":13,"labelExpr":"replace(datum.label,'0.5','.5')"},
 "legend":{"symbolType":"M-1,-1.03H6.92V1.03H-1Z","symbolSize":576,"symbolStrokeWidth":0,"labelFontSize":10,"labelColor":"#333333","labelOffset":88,"rowPadding":11,"columnPadding":56,"padding":11,"fillColor":"#ffffff","strokeColor":"#333333"}
}
}
